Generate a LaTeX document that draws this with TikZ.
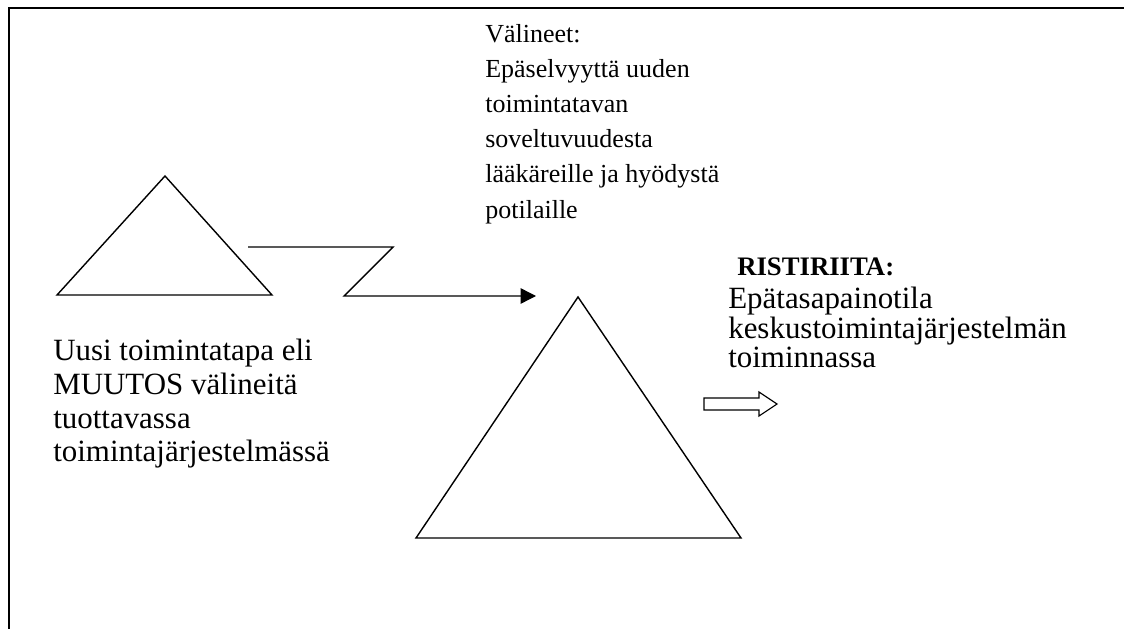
\documentclass[tikz,border=0pt]{standalone}
\usepackage{fontspec}
\setmainfont{Liberation Serif}
\usetikzlibrary{arrows.meta, calc}

\begin{document}
\begin{tikzpicture}[x=0.025cm, y=-0.025cm,
  txt/.style={anchor=north west, inner sep=0pt, align=left},
  shp/.style={draw=black, line width=1pt}]
\useasboundingbox (0,0) rectangle (1129,629);

% frame
\draw[line width=1.8pt] (9,629) -- (9,8) -- (1124,8);

% small triangle
\coordinate (A1) at (165,176);
\coordinate (A2) at (57,295);
\coordinate (A3) at (272,295);
\draw[shp] (A1) -- (A2) -- (A3) -- cycle;

% big triangle
\coordinate (B1) at (578,297);
\coordinate (B2) at (416,538);
\coordinate (B3) at (741,538);
\draw[shp] (B1) -- (B2) -- (B3) -- cycle;

% z arrow
\coordinate (Z1) at (248,247);
\coordinate (Z2) at (393,247);
\coordinate (Z3) at (344,296);
\coordinate (Z4) at (536,296);
\draw[shp, -{Triangle[length=11pt, width=11pt]}] (Z1) -- (Z2) -- (Z3) -- (Z4);

% hollow arrow
\coordinate (H) at (704,404);
\draw[shp, line width=0.8pt] (H) ++(0,-6) -- ++(55,0) -- ++(0,-6) -- ++(18,12)
  -- ++(-18,12) -- ++(0,-6) -- ++(-55,0) -- cycle;

% texts
\node[txt, font=\fontsize{18.5}{25}\selectfont] (valineet) at (485,24)
  {Välineet:\\Epäselvyyttä uuden\\toimintatavan\\soveltuvuudesta\\lääkäreille ja hyödystä\\potilaille};
\node[txt, font=\fontsize{22}{24}\selectfont] (muutos) at (53,339)
  {Uusi toimintatapa eli\\MUUTOS välineitä\\tuottavassa\\toimintajärjestelmässä};
\node[txt, font=\fontsize{19}{22}\selectfont\bfseries] (ristiriita) at (737,258)
  {RISTIRIITA:};
\node[txt, font=\fontsize{22}{21}\selectfont] (epatasapaino) at (728,287)
  {Epätasapainotila\\keskustoimintajärjestelmän\\toiminnassa};
\end{tikzpicture}
\end{document}
